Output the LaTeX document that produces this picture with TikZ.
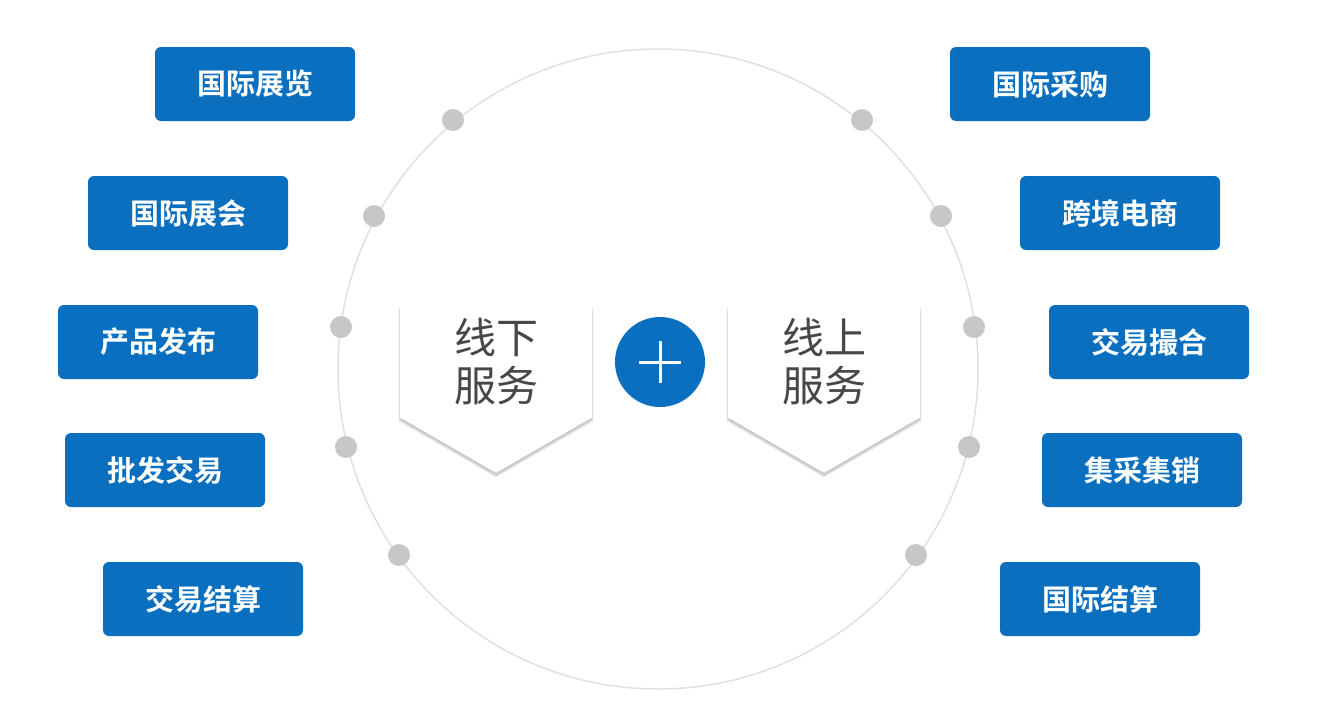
\documentclass[tikz,border=0pt]{standalone}
\usepackage{fontspec}
\usetikzlibrary{shadows.blur,shapes.geometric}
\newfontfamily\cjk{Noto Sans CJK SC}
\newfontfamily\cjkb{Noto Sans CJK SC Bold}
\definecolor{bl}{HTML}{0A6FBF}
\definecolor{dotc}{HTML}{C8C6C8}
\tikzset{x=1pt,y=-1pt,
 tag/.style={fill=bl,rounded corners=6pt,minimum width=200pt,minimum height=74pt,text=white,font=\cjkb\fontsize{29}{32}\selectfont,inner sep=0pt},
 dotn/.style={circle,fill=dotc,minimum size=22pt,inner sep=0pt},
 hexn/.style={regular polygon,regular polygon sides=6,shape border rotate=30,minimum size=222pt,fill=white,inner sep=0pt,blur shadow={shadow blur steps=8,shadow xshift=0pt,shadow yshift=-3pt,shadow opacity=25},text=black!72,font=\cjk\fontsize{42}{48}\selectfont,align=center}}
\begin{document}
\begin{tikzpicture}
\useasboundingbox (0,0) rectangle (1319,712);
\node[circle,draw=black!12,line width=1.5pt,minimum size=640pt,inner sep=0pt] (ring) at (658,369) {};
\foreach \n/\x/\y in {a/453/120,b/374/216,c/341/327,d/346/447,e/399/555,f/862/120,g/941/216,h/974/327,i/969/447,j/916/555}
  \node[dotn] (\n) at (\x,\y) {};
\node[tag] (t1) at (255,84) {国际展览};
\node[tag] (t2) at (188,213) {国际展会};
\node[tag] (t3) at (158,342) {产品发布};
\node[tag] (t4) at (165,470) {批发交易};
\node[tag] (t5) at (203,599) {交易结算};
\node[tag] (t6) at (1050,84) {国际采购};
\node[tag] (t7) at (1120,213) {跨境电商};
\node[tag] (t8) at (1149,342) {交易撮合};
\node[tag] (t9) at (1142,470) {集采集销};
\node[tag] (t10) at (1100,599) {国际结算};
\node[hexn] (h1) at (496,362) {线下\\服务};
\node[hexn] (h2) at (824,362) {线上\\服务};
\node[circle,fill=bl,minimum size=90pt,inner sep=0pt] (plus) at (660,362) {};
\draw[white,line width=3pt] ([xshift=-21pt]plus.center) -- ([xshift=21pt]plus.center);
\draw[white,line width=3pt] ([yshift=-21pt]plus.center) -- ([yshift=21pt]plus.center);
\end{tikzpicture}
\end{document}
